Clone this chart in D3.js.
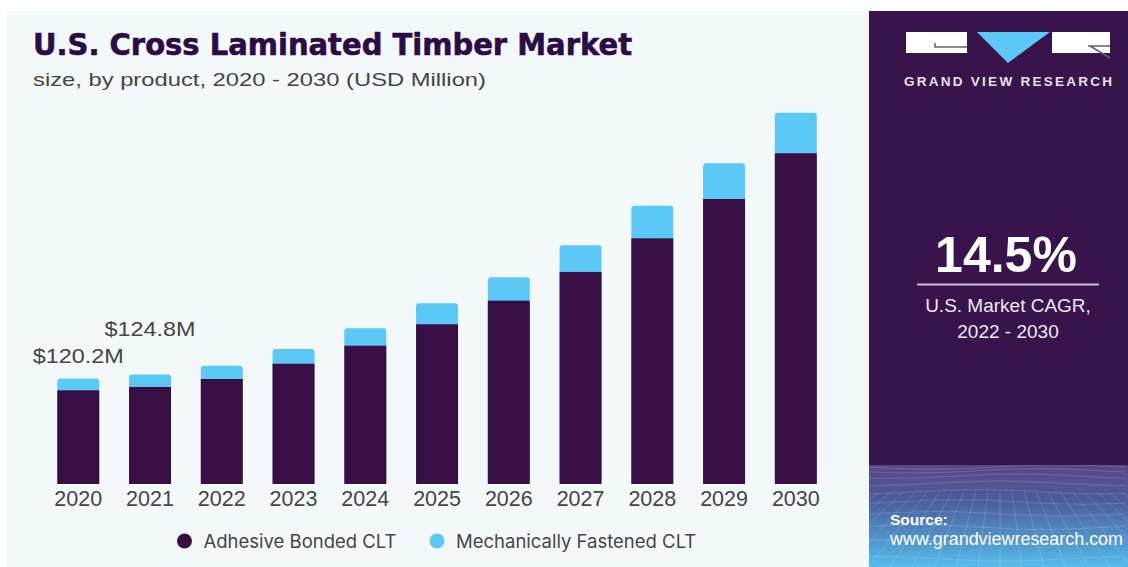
<!DOCTYPE html>
<html>
<head>
<meta charset="utf-8">
<script src="https://cdn.jsdelivr.net/npm/d3@7/dist/d3.min.js"></script>
<style>
  html, body { margin: 0; padding: 0; background: #ffffff; }
  svg { display: block; }
</style>
</head>
<body>
<svg id="chart" width="1128" height="567"></svg>
<script>
// Market size by product, USD million
const years = ["2020", "2021", "2022", "2023", "2024", "2025", "2026", "2027", "2028", "2029", "2030"];
const adhesiveBonded = [106.7, 110.5, 119.6, 137.0, 157.5, 181.9, 208.8, 241.5, 279.8, 324.6, 376.7];
const mechanicallyFastened = [13.5, 14.3, 15.1, 16.8, 19.8, 23.9, 26.6, 30.4, 37.2, 40.7, 46.2];
const seriesNames = ["Adhesive Bonded CLT", "Mechanically Fastened CLT"];
const calloutYears = ["2020", "2021"];
const calloutTexts = ["$120.2M", "$124.8M"];
const cagrValue = "14.5%";
const cagrLines = ["U.S. Market CAGR,", "2022 - 2030"];

const DARK = "#380f45";
const BLUE = "#5bc8f5";
const PANEL = "#38134c";
const INK = "#454545";

const svg = d3.select("#chart");
const sans = "'Liberation Sans', Arial, Helvetica, sans-serif";

// Backgrounds
svg.append("rect").attr("x", 7).attr("y", 11).attr("width", 862).attr("height", 556).attr("fill", "#f3f8fb");
svg.append("rect").attr("x", 869).attr("y", 11).attr("width", 259).attr("height", 556).attr("fill", PANEL);

// Title block
svg.append("text")
  .attr("x", 33).attr("y", 55)
  .attr("font-family", "'DejaVu Sans', 'Liberation Sans', sans-serif")
  .attr("font-weight", "bold").attr("font-size", 29.5)
  .attr("fill", "#2c0c45")
  .attr("stroke", "#2c0c45").attr("stroke-width", 0.6)
  .attr("textLength", 599).attr("lengthAdjust", "spacingAndGlyphs")
  .text("U.S. Cross Laminated Timber Market");
svg.append("text")
  .attr("x", 33).attr("y", 86)
  .attr("font-family", sans).attr("font-size", 19)
  .attr("fill", INK)
  .attr("textLength", 453).attr("lengthAdjust", "spacingAndGlyphs")
  .text("size, by product, 2020 - 2030 (USD Million)");

// Scales
const x = d3.scaleBand().domain(years).range([42.4, 831.7]).paddingInner(0.415).paddingOuter(0.2075);
const y = d3.scaleLinear().domain([0, 450]).range([484, 88.9]);

const rows = years.map((yr, i) => ({
  year: yr,
  a: adhesiveBonded[i],
  m: mechanicallyFastened[i],
  total: +(adhesiveBonded[i] + mechanicallyFastened[i]).toFixed(1)
}));

const bars = svg.append("g");
// full-height stack drawn in the top colour, then the lower segment over it
bars.selectAll("rect.top").data(rows).join("rect")
  .attr("class", "top")
  .attr("x", d => x(d.year)).attr("width", x.bandwidth())
  .attr("y", d => y(d.total)).attr("height", d => y(0) - y(d.total))
  .attr("rx", 3).attr("fill", BLUE);
bars.selectAll("rect.base").data(rows).join("rect")
  .attr("class", "base")
  .attr("x", d => x(d.year)).attr("width", x.bandwidth())
  .attr("y", d => y(d.a)).attr("height", d => y(0) - y(d.a))
  .attr("fill", DARK);

// Year axis
const axis = svg.append("g").attr("transform", `translate(0,${y(0)})`)
  .call(d3.axisBottom(x).tickSize(0).tickPadding(0));
axis.select(".domain").remove();
axis.selectAll("text")
  .attr("y", 22).attr("dy", 0)
  .attr("font-family", sans).attr("font-size", 21.5).attr("fill", INK);

// Value callouts
const calloutLift = [15, 38];
calloutYears.forEach((yr, i) => {
  const r = rows.find(d => d.year === yr);
  svg.append("text")
    .attr("x", x(yr) + x.bandwidth() / 2)
    .attr("y", y(r.total) - calloutLift[i])
    .attr("text-anchor", "middle")
    .attr("font-family", sans).attr("font-size", 20.5).attr("fill", INK)
    .attr("textLength", 91).attr("lengthAdjust", "spacingAndGlyphs")
    .text(calloutTexts[i]);
});

// Legend
const legendX = [184.5, 437];
seriesNames.forEach((name, i) => {
  const g = svg.append("g").attr("transform", `translate(${legendX[i]},541)`);
  g.append("circle").attr("r", 7.5).attr("fill", i === 0 ? DARK : BLUE);
  g.append("text").attr("x", 19).attr("y", 6.5)
    .attr("font-family", "Inter, 'Liberation Sans', sans-serif").attr("font-size", 18.5)
    .attr("fill", INK).text(name);
});

// Right panel: logo
const logo = svg.append("g");
logo.append("rect").attr("x", 906).attr("y", 32).attr("width", 61).attr("height", 21).attr("fill", "#ffffff");
logo.append("path").attr("d", "M935,43 L935,47 L967,47").attr("fill", "none").attr("stroke", "#6a5a86").attr("stroke-width", 1.5);
logo.append("path").attr("d", "M977,32 L1050,32 L1008,63 Z").attr("fill", BLUE);
logo.append("rect").attr("x", 1052).attr("y", 32).attr("width", 58).attr("height", 21).attr("fill", "#ffffff");
logo.append("path").attr("d", "M1088,46 L1110,46 M1090,46 L1110,58").attr("fill", "none").attr("stroke", "#6a5a86").attr("stroke-width", 1.5);
svg.append("text")
  .attr("x", 904).attr("y", 86)
  .attr("font-family", sans).attr("font-weight", "bold").attr("font-size", 13.5)
  .attr("fill", "#e4e0ea")
  .attr("textLength", 208).attr("lengthAdjust", "spacing")
  .text("GRAND VIEW RESEARCH");

// CAGR figure
svg.append("text")
  .attr("x", 1006).attr("y", 272).attr("text-anchor", "middle")
  .attr("font-family", sans).attr("font-weight", "bold").attr("font-size", 50)
  .attr("fill", "#ffffff").text(cagrValue);
svg.append("line").attr("x1", 917).attr("x2", 1099).attr("y1", 284.5).attr("y2", 284.5)
  .attr("stroke", "#c8bfd6").attr("stroke-width", 2);
cagrLines.forEach((t, i) => {
  svg.append("text")
    .attr("x", 1008).attr("y", 312 + i * 26).attr("text-anchor", "middle")
    .attr("font-family", sans).attr("font-size", 19)
    .attr("fill", "#eee8f3").text(t);
});

// Bottom band with mesh
const defs = svg.append("defs");
const grad = defs.append("linearGradient").attr("id", "band").attr("x1", 0).attr("x2", 0).attr("y1", 0).attr("y2", 1);
grad.append("stop").attr("offset", "0%").attr("stop-color", "#574883");
grad.append("stop").attr("offset", "35%").attr("stop-color", "#4c5c9c");
grad.append("stop").attr("offset", "100%").attr("stop-color", "#55bcec");
defs.append("clipPath").attr("id", "bandClip")
  .append("rect").attr("x", 869).attr("y", 465).attr("width", 259).attr("height", 102);
svg.append("rect").attr("x", 869).attr("y", 465).attr("width", 259).attr("height", 102).attr("fill", "url(#band)");

const mesh = svg.append("g").attr("clip-path", "url(#bandClip)")
  .attr("stroke", "#ffffff").attr("stroke-opacity", 0.2).attr("fill", "none").attr("stroke-width", 0.8);
const rowsY = d3.range(0, 16).map(k => 467 + 0.8 * k * k + 3 * k);
rowsY.forEach((yy, k) => {
  const pts = d3.range(869, 1130, 8).map(xx => [xx, yy + 2.2 * Math.sin((xx - 869) / 40 + k * 0.5)]);
  mesh.append("path").attr("d", d3.line().curve(d3.curveBasis)(pts));
});
d3.range(-30, 32).forEach(k => {
  const vx = 1000, vy = 400;
  const bx = 1000 + k * 22;
  mesh.append("path").attr("d", `M${vx + (bx - vx) * 0.55},${vy + (567 - vy) * 0.55} L${bx},567`);
});

svg.append("text")
  .attr("x", 890).attr("y", 525)
  .attr("font-family", sans).attr("font-weight", "bold").attr("font-size", 15.5)
  .attr("fill", "#ffffff").text("Source:");
svg.append("text")
  .attr("x", 890).attr("y", 545)
  .attr("font-family", sans).attr("font-size", 17.5)
  .attr("fill", "#ffffff")
  .attr("textLength", 233).attr("lengthAdjust", "spacingAndGlyphs")
  .text("www.grandviewresearch.com");
</script>
</body>
</html>
